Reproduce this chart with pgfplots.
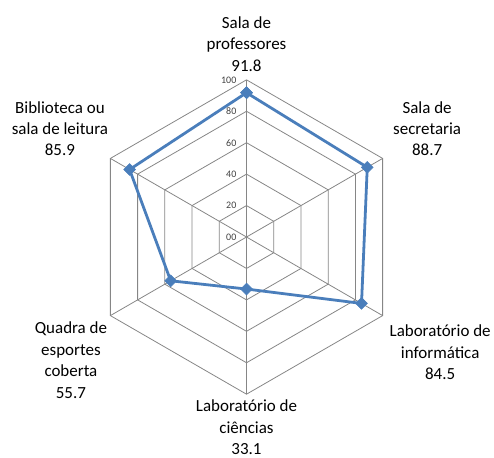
\documentclass[border=0pt]{standalone}
\usepackage{pgfplots}
\pgfplotsset{compat=1.18}
\usepackage{fontspec}
\setmainfont{Carlito}
\definecolor{gridgray}{HTML}{868686}
\definecolor{serie}{HTML}{4A7EBB}
\definecolor{ticktxt}{HTML}{404040}
\tikzset{lab/.style={font=\fontsize{17bp}{21.5bp}\selectfont, align=center, text=black},
  ticklab/.style={anchor=east, inner sep=0pt, text=ticktxt, font=\fontsize{10bp}{12bp}\selectfont}}

\begin{document}
\begin{tikzpicture}
\begin{axis}[
  x=1.575bp, y=1.575bp, scale only axis,
  xmin=-156.83, xmax=156.83, ymin=-137.46, ymax=150.79,
  hide axis, clip=false,
  hexgrid/.style={gridgray, line width=0.8bp, no marks, data cs=polar},
]
% hexagonal grid
\addplot[hexgrid] coordinates {(90,100)(30,100)(-30,100)(-90,100)(-150,100)(150,100)(90,100)};
\addplot[hexgrid] coordinates {(90,80)(30,80)(-30,80)(-90,80)(-150,80)(150,80)(90,80)};
\addplot[hexgrid] coordinates {(90,60)(30,60)(-30,60)(-90,60)(-150,60)(150,60)(90,60)};
\addplot[hexgrid] coordinates {(90,40)(30,40)(-30,40)(-90,40)(-150,40)(150,40)(90,40)};
\addplot[hexgrid] coordinates {(90,20)(30,20)(-30,20)(-90,20)(-150,20)(150,20)(90,20)};
% spokes
\addplot[hexgrid] coordinates {(90,100)(90,0)};
\addplot[hexgrid] coordinates {(30,100)(30,0)};
\addplot[hexgrid] coordinates {(-30,100)(-30,0)};
\addplot[hexgrid] coordinates {(-90,100)(-90,0)};
\addplot[hexgrid] coordinates {(-150,100)(-150,0)};
\addplot[hexgrid] coordinates {(150,100)(150,0)};

% data series
\addplot[serie, line width=2.8bp, data cs=polar, mark=square*,
  mark size=4.2bp, mark options={rotate=45, line width=0.5bp, fill=serie}]
  coordinates {(90,91.8)(30,88.7)(-30,84.5)(-90,33.1)(-150,55.7)(150,85.9)(90,91.8)};

% radial tick labels
\node[ticklab] at (axis cs:-6.35,0) {00};
\node[ticklab] at (axis cs:-6.35,20) {20};
\node[ticklab] at (axis cs:-6.35,40) {40};
\node[ticklab] at (axis cs:-6.35,60) {60};
\node[ticklab] at (axis cs:-6.35,80) {80};
\node[ticklab] at (axis cs:-6.35,100) {100};

% category labels
\node[lab] at (axis cs:0,122.86) {Sala de\\professores\\91.8};
\node[lab] at (axis cs:114.9,68.9) {Sala de\\secretaria\\88.7};
\node[lab] at (axis cs:123.2,-73.3) {Laboratório de\\informática\\84.5};
\node[lab] at (axis cs:0,-121.0) {Laboratório de\\ciências\\33.1};
\node[lab] at (axis cs:-111.7,-78.4) {Quadra de\\esportes\\coberta\\55.7};
\node[lab] at (axis cs:-118.7,68.9) {Biblioteca ou\\sala de leitura\\85.9};

\path (rel axis cs:0,0) rectangle (rel axis cs:1,1);
\end{axis}
\end{tikzpicture}
\end{document}
